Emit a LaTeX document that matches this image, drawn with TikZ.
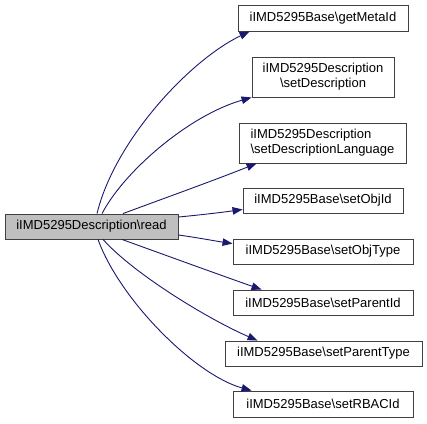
\documentclass[tikz,border=0pt]{standalone}
\usepackage{fontspec}
\setmainfont{Liberation Sans}
\usetikzlibrary{arrows.meta}
\definecolor{edgeblue}{HTML}{191970}
\definecolor{boxline}{HTML}{404040}
\definecolor{srcfill}{HTML}{BFBFBF}
\begin{document}
\begin{tikzpicture}[x=1pt,y=-1pt,
  box/.style={draw=boxline, line width=0.9pt, fill=white, inner sep=0pt, font=\fontsize{13}{15}\selectfont, align=center},
  edge/.style={draw=edgeblue, line width=0.9pt, -{Triangle[length=10pt,width=7.5pt]}}]
\useasboundingbox (0,0) rectangle (427,423);
\node[box, fill=srcfill, minimum width=173pt, minimum height=25pt] (src) at (91.5,226.5) {iIMD5295Description\textbackslash read};
\node[box, minimum width=170pt, minimum height=26pt] (t1) at (323,18) {iIMD5295Base\textbackslash getMetaId};
\node[box, minimum width=142pt, minimum height=40pt] (t2) at (323,77) {iIMD5295Description\\\textbackslash setDescription};
\node[box, minimum width=167pt, minimum height=40pt, align=left] (t3) at (322.5,143) {iIMD5295Description\\\textbackslash setDescriptionLanguage};
\node[box, minimum width=160pt, minimum height=25pt] (t4) at (323,200.5) {iIMD5295Base\textbackslash setObjId};
\node[box, minimum width=180pt, minimum height=25pt] (t5) at (323,251.5) {iIMD5295Base\textbackslash setObjType};
\node[box, minimum width=180pt, minimum height=25pt] (t6) at (323,302.5) {iIMD5295Base\textbackslash setParentId};
\node[box, minimum width=197pt, minimum height=25pt] (t7) at (323.5,353.5) {iIMD5295Base\textbackslash setParentType};
\node[box, minimum width=180pt, minimum height=26pt] (t8) at (323,404) {iIMD5295Base\textbackslash setRBACId};

\draw[edge] ([xshift=5.5pt]src.north) .. controls (115,140) and (190,60) .. ([xshift=12pt]t1.south west);
\draw[edge] ([xshift=10.5pt]src.north) .. controls (125,170) and (190,115) .. (t2.south west);
\draw[edge] ([xshift=31.5pt]src.north) .. controls (165,198) and (215,180) .. ([xshift=18pt]t3.south west);
\draw[edge] ([yshift=9.5pt]src.east) .. controls (200,215) and (225,212) .. ([yshift=4pt]t4.south west);
\draw[edge] ([yshift=-8.5pt]src.east) .. controls (200,238) and (215,241) .. ([yshift=-5pt]t5.north west);
\draw[edge] ([xshift=30.5pt]src.south) .. controls (165,255) and (220,275) .. ([xshift=29pt]t6.north west);
\draw[edge] ([xshift=11.5pt]src.south) .. controls (135,275) and (210,320) .. ([xshift=33pt]t7.north west);
\draw[edge] ([xshift=6.5pt]src.south) .. controls (120,300) and (195,375) .. ([xshift=19pt]t8.north west);
\end{tikzpicture}
\end{document}
